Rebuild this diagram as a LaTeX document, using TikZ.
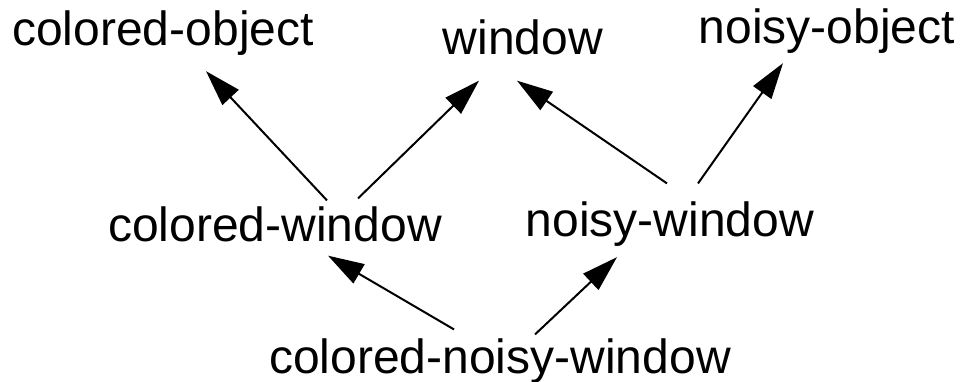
\documentclass[tikz,border=0pt]{standalone}
\usepackage{fontspec}
\setmainfont{Liberation Sans}
\usetikzlibrary{arrows.meta}
\begin{document}
\begin{tikzpicture}[x=1pt, y=-1pt,
    lbl/.style={anchor=base, inner sep=0pt, font=\fontsize{48}{58}\selectfont},
    arr/.style={-{Triangle[length=36pt,width=22pt]}, line width=2pt}]
    \useasboundingbox (0,0) rectangle (963,382);
    \node[lbl] (co) at (163,46) {colored-object};
    \node[lbl] (win) at (523,55) {window};
    \node[lbl] (no) at (827,44) {noisy-object};
    \node[lbl] (cw) at (275,241) {colored-window};
    \node[lbl] (nw) at (670,236) {noisy-window};
    \node[lbl] (cnw) at (500,373) {colored-noisy-window};
    \draw[arr] ([xshift=52pt,yshift=5.6pt]cw.north) -- ([xshift=43pt,yshift=-15pt]co.south);
    \draw[arr] ([xshift=83pt,yshift=7.6pt]cw.north) -- ([xshift=-44pt,yshift=-25pt]win.south);
    \draw[arr] ([xshift=-3pt,yshift=17.6pt]nw.north) -- ([xshift=-6pt,yshift=-25pt]win.south);
    \draw[arr] ([xshift=28pt,yshift=17.6pt]nw.north) -- ([xshift=-44pt,yshift=-9pt]no.south);
    \draw[arr] ([xshift=-46pt,yshift=8.6pt]cnw.north) -- ([xshift=53pt,yshift=-14pt]cw.south);
    \draw[arr] ([xshift=35pt,yshift=3.6pt]cnw.north) -- ([xshift=-53pt,yshift=-11pt]nw.south);
\end{tikzpicture}
\end{document}
